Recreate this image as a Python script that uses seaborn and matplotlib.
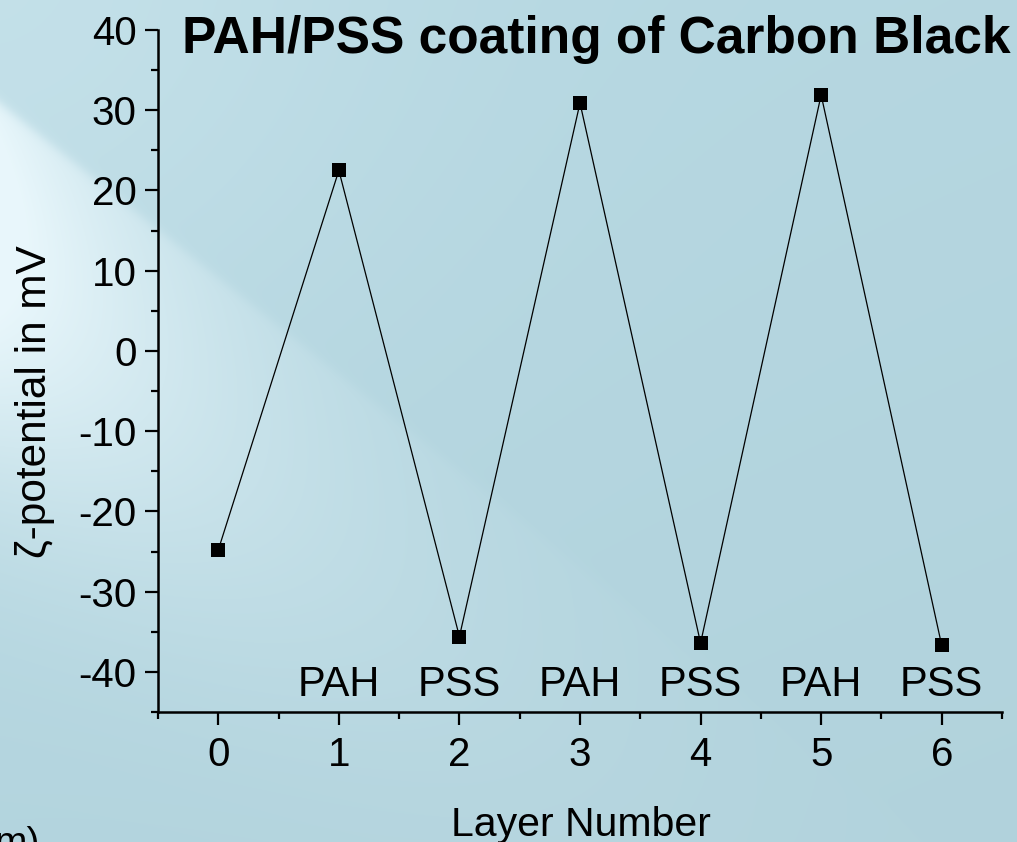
import numpy as np
import pandas as pd
import seaborn as sns
import matplotlib.pyplot as plt
from matplotlib import font_manager
from matplotlib.ticker import MultipleLocator

# Data
layers = [0, 1, 2, 3, 4, 5, 6]
zeta = [-24.8, 22.5, -35.6, 30.9, -36.4, 31.9, -36.7]
coat_x = [1, 2, 3, 4, 5, 6]
coat_labels = ["PAH", "PSS", "PAH", "PSS", "PAH", "PSS"]

df = pd.DataFrame({"layer": layers, "zeta": zeta})

sns.set_style("ticks")
plt.rcParams["font.family"] = ["Liberation Sans", "DejaVu Sans"]
plt.rcParams["text.color"] = "black"
plt.rcParams["xtick.color"] = "black"
plt.rcParams["ytick.color"] = "black"
plt.rcParams["axes.unicode_minus"] = False

W, H = 1017, 842
fig = plt.figure(figsize=(W / 100, H / 100), dpi=100)

# background gradient with the light diagonal streak
yy, xx = np.mgrid[0:H, 0:W].astype(float)
base = np.array([183, 217, 227]) / 255.0
light = np.array([238, 250, 254]) / 255.0
s = (yy - 103 - 0.8 * xx) / np.sqrt(1.64)      # distance below the streak edge
edge = 1 / (1 + np.exp(-s / 3))
band = edge * np.exp(-((s - 110) / 190) ** 2) * np.exp(-xx / 230)
glow = 0.22 * np.exp(-(xx ** 2 + yy ** 2) / (2 * 280 ** 2))
amt = np.clip(0.85 * band + glow, 0, 0.9)
tint = 1 - 0.02 * (yy / H) - 0.01 * (xx / W)
img = (base[None, None, :] * tint[..., None]) * (1 - amt[..., None]) + light * amt[..., None]
bg = fig.add_axes([0, 0, 1, 1], zorder=-1)
bg.imshow(np.clip(img, 0, 1), aspect="auto", extent=[0, 1, 0, 1])
bg.axis("off")

ax = fig.add_axes([158 / W, (H - 712) / H, 844 / W, 682 / H])
ax.set_facecolor("none")

sns.lineplot(data=df, x="layer", y="zeta", ax=ax, color="black", linewidth=0.9,
             marker="s", markersize=9.5, markeredgecolor="black", markeredgewidth=0)

for x, lab in zip(coat_x, coat_labels):
    ax.text(x, -43.0, lab, ha="center", va="baseline", fontsize=30)

ax.set_xlim(-0.5, 6.5)
ax.set_ylim(-45, 40)
ax.xaxis.set_major_locator(MultipleLocator(1))
ax.xaxis.set_minor_locator(MultipleLocator(0.5))
ax.yaxis.set_major_locator(MultipleLocator(10))
ax.yaxis.set_minor_locator(MultipleLocator(5))
ax.tick_params(which="major", length=9.5, width=1.6, labelsize=29, pad=6, color="black",
               labelcolor="black")
ax.tick_params(which="minor", length=5, width=1.6, color="black")
ax.tick_params(axis="x", which="major", pad=8)
for side in ["top", "right"]:
    ax.spines[side].set_visible(False)
for side in ["left", "bottom"]:
    ax.spines[side].set_linewidth(1.8)
    ax.spines[side].set_color("black")
ax.set_xlabel("")
ax.set_ylabel("")

fig.text(581 / W, (H - 825) / H, "Layer Number", ha="center", va="center", fontsize=29.5)
fig.text(35 / W, (H - 402) / H, "ζ-potential in mV", ha="center", va="center",
         rotation=90, fontsize=30.5)

# bold condensed title; use a narrow face if one is installed, else fit the width
names = {f.name for f in font_manager.fontManager.ttflist}
title_kw = dict(fontweight="bold")
if "Liberation Sans Narrow" in names:
    title_kw["family"] = ["Liberation Sans Narrow", "DejaVu Sans"]
tsize = 38
title = fig.text(596 / W, (H - 53) / H, "PAH/PSS coating of Carbon Black", ha="center",
                 va="baseline", fontsize=tsize, **title_kw)
fig.canvas.draw()
tw = title.get_window_extent().width
if tw > 827:
    title.set_fontsize(tsize * 827 / tw)

fig.text(40 / W, (H - 826) / H, "m)", ha="right", va="top", fontsize=28)

fig.savefig("out.png", dpi=100)
